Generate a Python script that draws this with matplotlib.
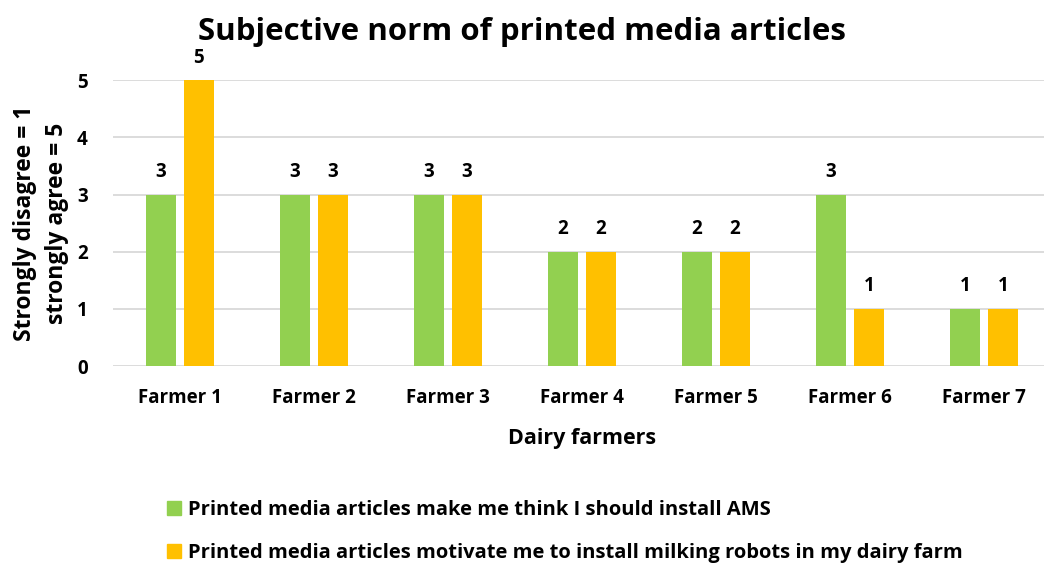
import matplotlib
matplotlib.use("Agg")
import matplotlib.pyplot as plt
from matplotlib.patches import Patch
import numpy as np

farmers = ["Farmer 1", "Farmer 2", "Farmer 3", "Farmer 4", "Farmer 5", "Farmer 6", "Farmer 7"]
think_install_ams = [3, 3, 3, 2, 2, 3, 1]
motivate_robots = [5, 3, 3, 2, 2, 1, 1]
series_names = [
    "Printed media articles make me think I should install AMS",
    "Printed media articles motivate me to install milking robots in my dairy farm",
]
yticks = [0, 1, 2, 3, 4, 5]

GREEN = "#92D050"
YELLOW = "#FFC000"
GRID = "#D9D9D9"
FONT = ["Open Sans", "DejaVu Sans"]

plt.rcParams["font.family"] = FONT
plt.rcParams["font.weight"] = "bold"

fig = plt.figure(figsize=(10.44, 5.65), dpi=100)
ax = fig.add_axes([0.108, 0.352, 0.899, 0.506])

x = np.arange(len(farmers))
w = 0.224
off = 0.142
b1 = ax.bar(x - off, think_install_ams, w, color=GREEN, zorder=3)
b2 = ax.bar(x + off, motivate_robots, w, color=YELLOW, zorder=3)

for bars, vals in ((b1, think_install_ams), (b2, motivate_robots)):
    for rect, v in zip(bars, vals):
        ax.annotate(str(v), (rect.get_x() + rect.get_width() / 2, v),
                    xytext=(0, 9), textcoords="offset points",
                    ha="center", va="bottom", fontsize=13.5, fontweight="bold",
                    color="#000000")

ax.set_xlim(-0.5, len(farmers) - 0.5)
ax.set_ylim(0, 5)
ax.set_yticks(yticks)
ax.set_yticklabels([str(t) for t in yticks])
ax.set_xticks(x)
ax.set_xticklabels(farmers)
ax.yaxis.grid(True, color=GRID, linewidth=1.3, zorder=0)
ax.set_axisbelow(True)
for s in ax.spines.values():
    s.set_visible(False)
ax.tick_params(axis="both", length=0, labelsize=13.5, colors="#000000")
ax.tick_params(axis="x", pad=16)
ax.tick_params(axis="y", pad=18)

ax.set_xlabel("Dairy farmers", fontsize=15.5, fontweight="bold", labelpad=14)
ax.set_ylabel("Strongly disagree = 1\nstrongly agree = 5", fontsize=16.5,
              fontweight="bold", labelpad=6, linespacing=1.45)

fig.text(0.5, 0.944, "Subjective norm of printed media articles", ha="center",
         va="center", fontsize=22.5, fontweight="bold")

handles = [Patch(color=GREEN), Patch(color=YELLOW)]
fig.legend(handles, series_names, loc="upper left", bbox_to_anchor=(0.152, 0.13),
           ncol=1, frameon=False, fontsize=14.5, handlelength=0.7, handleheight=0.7,
           handletextpad=0.35, labelspacing=1.15, borderaxespad=0)

fig.savefig("out.png", dpi=100)
